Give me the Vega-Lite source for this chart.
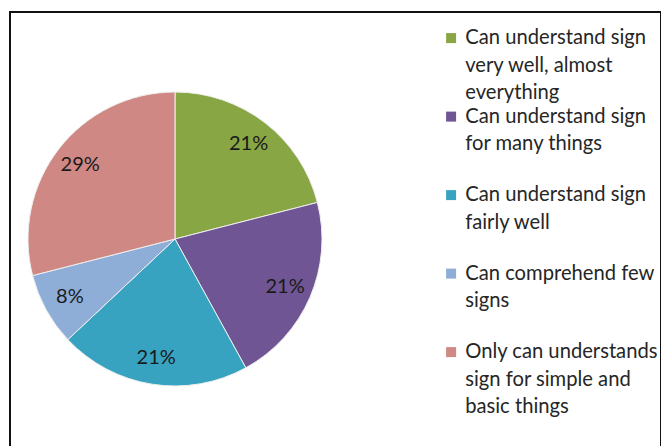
{
  "$schema": "https://vega.github.io/schema/vega-lite/v6.json",
  "width": 651,
  "height": 446,
  "padding": {"left": 10, "top": 12, "right": 0, "bottom": 0},
  "autosize": {"type": "none"},
  "background": "white",
  "view": {"stroke": "#111111", "strokeWidth": 2},
  "config": {
    "view": {"stroke": "#111111", "strokeWidth": 2},
    "style": {"guide-label": {"lineHeight": 27.5}}
  },
  "data": {
    "values": [
      {"category": "Can understand sign|very well, almost|everything", "share": 0.21, "order": 1},
      {"category": "Can understand sign|for many things", "share": 0.21, "order": 2},
      {"category": "Can understand sign|fairly well", "share": 0.21, "order": 3},
      {"category": "Can comprehend few|signs", "share": 0.08, "order": 4},
      {"category": "Only can understands|sign for simple and|basic things", "share": 0.29, "order": 5}
    ]
  },
  "layer": [
    {
      "mark": {"type": "arc", "outerRadius": 147, "x": 165, "y": 227, "stroke": "#eeeeee", "strokeWidth": 1},
      "encoding": {
        "theta": {"field": "share", "type": "quantitative", "stack": true},
        "order": {"field": "order", "type": "quantitative"},
        "color": {
          "field": "category",
          "type": "nominal",
          "scale": {
            "domain": [
              "Can understand sign|very well, almost|everything",
              "Can understand sign|for many things",
              "Can understand sign|fairly well",
              "Can comprehend few|signs",
              "Only can understands|sign for simple and|basic things"
            ],
            "range": ["#88A644", "#6F5593", "#38A3C0", "#8EAED8", "#D08885"]
          },
          "legend": {
            "orient": "none",
            "legendX": 431,
            "legendY": 16,
            "title": null,
            "padding": 0,
            "gridAlign": "all",
            "rowPadding": 2.5,
            "symbolType": "square",
            "symbolSize": 100,
            "symbolStrokeWidth": 0,
            "labelFont": "Lato",
            "labelFontSize": 20.2,
            "labelColor": "#262626",
            "labelLimit": 400,
            "labelOffset": 4,
            "labelExpr": "split(datum.label, '|')"
          }
        }
      }
    },
    {
      "mark": {"type": "text", "radius": 120, "x": 165, "y": 227, "font": "Lato", "fontSize": 20, "color": "#1a1a1a"},
      "encoding": {
        "theta": {"field": "share", "type": "quantitative", "stack": true},
        "order": {"field": "order", "type": "quantitative"},
        "text": {"field": "share", "type": "quantitative", "format": ".0%"}
      }
    }
  ]
}
